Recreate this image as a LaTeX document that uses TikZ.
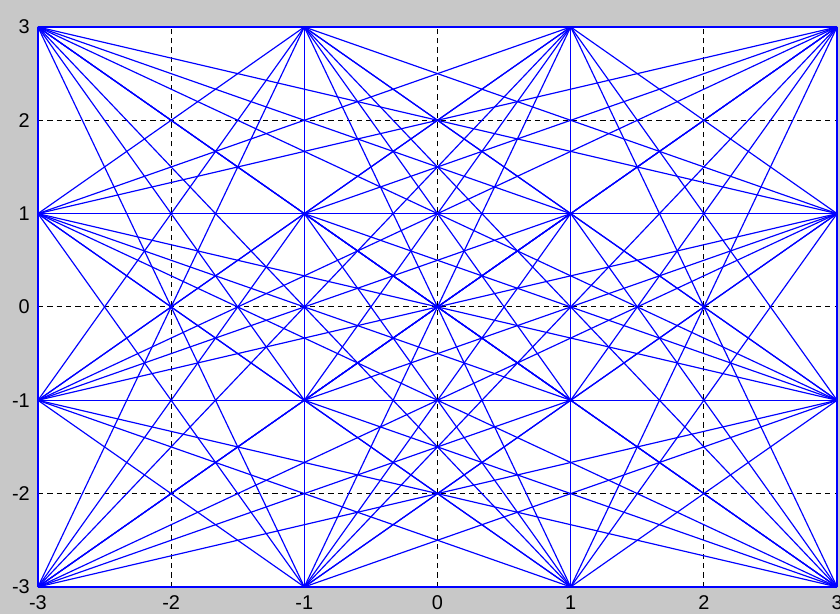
\documentclass[tikz,border=0pt]{standalone}
\usepackage{fontspec}
\setmainfont{Liberation Sans}
\usetikzlibrary{positioning}
\definecolor{figgray}{RGB}{200,200,200}
\definecolor{lineblue}{RGB}{0,0,255}
\tikzset{
  edge/.style={draw=lineblue,line width=1pt},
  gridln/.style={draw=black,line width=0.9pt,dash pattern=on 4.5pt off 3.5pt},
  ticklbl/.style={inner sep=0pt,font=\fontsize{17}{19}\selectfont},
}

\begin{document}
\begin{tikzpicture}[x=3.996cm,y=2.8cm]
  \useasboundingbox[fill=figgray] (-3.285,-3.289) rectangle (3.022,3.289);
  \fill[white] (-3,-3) rectangle (3,3);
  % dashed grid
  \foreach \g in {-2,...,2} {
    \draw[gridln] (\g,-3) -- (\g,3);
    \draw[gridln] (-3,\g) -- (3,\g);
  }
  % the 16 points
  \foreach \k in {1,...,16} {
    \pgfmathtruncatemacro\cx{-3+2*mod(\k-1,4)}
    \pgfmathtruncatemacro\cy{-3+2*floor((\k-1)/4)}
    \coordinate (p\k) at (\cx,\cy);
  }
  % every pair
  \foreach \a in {1,...,15} {
    \pgfmathtruncatemacro\nb{\a+1}
    \foreach \b in {\nb,...,16}
      \draw[edge] (p\a) -- (p\b);
  }
  % tick labels
  \foreach \v [count=\i] in {-3,...,3} {
    \node[ticklbl,anchor=east] (yl\i) at (-3.06,\v) {\v};
    \node[ticklbl,anchor=north] (xl\i) at (\v,-3.095) {\v};
  }
\end{tikzpicture}
\end{document}
